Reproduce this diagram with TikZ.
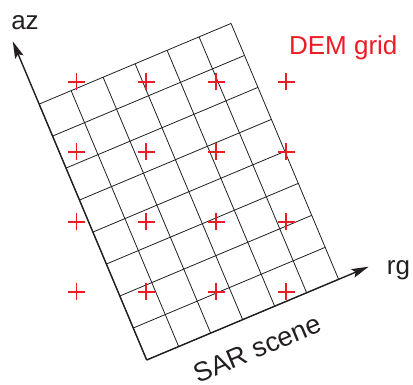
\documentclass[tikz,border=0pt]{standalone}
\usepackage{fontspec}
\setmainfont{Liberation Sans}
\usetikzlibrary{arrows.meta}
\definecolor{demred}{RGB}{237,28,36}
\definecolor{ink}{RGB}{35,31,32}
\begin{document}
\begin{tikzpicture}[x=1pt,y=1pt,
  gridline/.style={line width=0.8pt, ink},
  axisline/.style={line width=1.4pt, ink, -{Stealth[length=17pt,width=9pt,inset=3pt]}},
  crossmark/.style={demred, line width=1.2pt},
  lbl/.style={font=\fontsize{26}{30}\selectfont, inner sep=0pt, text=ink}]
\useasboundingbox (0,0) rectangle (413,-385);
\begin{scope}[shift={(146.7,-360)}, rotate=22.8]
  \foreach \i in {0,...,6} \draw[gridline] (\i*34.7,0) -- (\i*34.7,277.6);
  \foreach \j in {0,...,8} \draw[gridline] (0,\j*34.7) -- (208.2,\j*34.7);
  \coordinate (O) at (0,0);
  \coordinate (azend) at (0,345.7);
  \coordinate (rgend) at (240.7,0);
  \draw[axisline] (O) -- (azend);
  \draw[axisline] (O) -- (rgend);
\end{scope}
\foreach \x in {76.5,146,216,286} \foreach \y in {82,152,222,292}
  \draw[crossmark] (\x-8.5,-\y) -- (\x+8.5,-\y) (\x,-\y-8.5) -- (\x,-\y+8.5);
\node[lbl, anchor=base] (az) at (25,-30) {az};
\node[lbl, anchor=base west] (rg) at (386.7,-275) {rg};
\node[lbl, anchor=base, text=demred] (dem) at (343.3,-55) {DEM grid};
\node[lbl, anchor=base, rotate=22.8, font=\fontsize{27}{30}\selectfont] (sar) at (261,-357) {SAR scene};
\end{tikzpicture}
\end{document}
